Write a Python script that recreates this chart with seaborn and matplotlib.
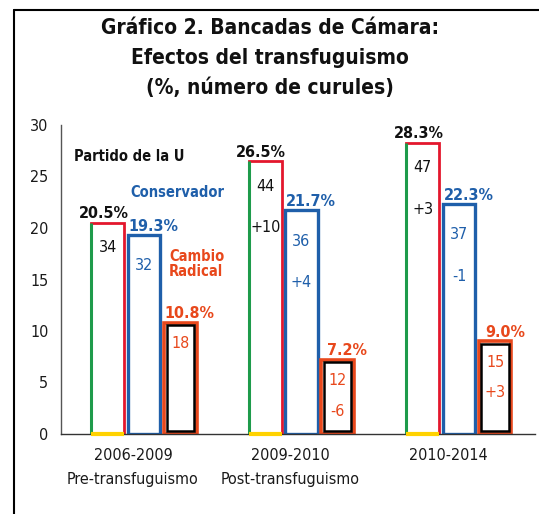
import numpy as np
import pandas as pd
import matplotlib
matplotlib.use('Agg')
import matplotlib.pyplot as plt
import matplotlib.transforms as mtransforms
from matplotlib.lines import Line2D
from matplotlib.patches import Rectangle
import seaborn as sns

# data
periods = ['2006-2009\nPre-transfuguismo', '2009-2010\nPost-transfuguismo', '2010-2014']
parties = ['Partido de la U', 'Conservador', 'Cambio Radical']
pct_u = [20.5, 26.5, 28.3]
pct_c = [19.3, 21.7, 22.3]
pct_cr = [10.8, 7.2, 9.0]
seats_u = [34, 44, 47]
seats_c = [32, 36, 37]
seats_cr = [18, 12, 15]
change_u = ['', '+10', '+3']
change_c = ['', '+4', '-1']
change_cr = ['', '-6', '+3']

GREEN = '#1E9B4B'
RED = '#E3172D'
YELLOW = '#FFD200'
BLUE = '#1F5FAA'
ORANGE = '#E8481C'

sns.set_style('white')
plt.rcParams['font.family'] = ['DejaVu Sans']
plt.rcParams['font.stretch'] = 'condensed'

df = pd.DataFrame({
    'periodo': periods * 3,
    'partido': [p for p in parties for _ in periods],
    'pct': pct_u + pct_c + pct_cr,
})

fig = plt.figure(figsize=(5.39, 5.14), dpi=100)
ax = fig.add_axes([61 / 539, 80 / 514, (535 - 61) / 539, (434 - 125) / 514])

sns.barplot(data=df, x='periodo', y='pct', hue='partido', hue_order=parties,
            order=periods, palette=['white'] * 3, width=0.69, gap=0.1,
            legend=False, ax=ax, err_kws={'linewidth': 0})

ax.set_xlim(-0.527, 2.483)
ax.set_ylim(0, 30)
ax.set_yticks(range(0, 31, 5))
ax.set_xlabel('')
ax.set_ylabel('')
ax.tick_params(axis='both', length=0, colors='#1a1a1a')
ax.tick_params(axis='y', pad=9, labelsize=11.5)
ax.tick_params(axis='x', pad=10, labelsize=11.5)
shift = mtransforms.ScaledTranslation(-11 / 100, 0, fig.dpi_scale_trans)
for lab in ax.get_xticklabels():
    lab.set_linespacing(1.75)
    lab.set_transform(lab.get_transform() + shift)
for s in ['top', 'right']:
    ax.spines[s].set_visible(False)
ax.spines['left'].set_color('#555555')
ax.spines['bottom'].set_color('#333333')
ax.spines['left'].set_linewidth(1)
ax.spines['bottom'].set_linewidth(1)

bars_u, bars_c, bars_cr = ax.containers[0], ax.containers[1], ax.containers[2]

fig.canvas.draw()
px_x = ax.transData.transform((1, 0))[0] - ax.transData.transform((0, 0))[0]
px_y = ax.transData.transform((0, 1))[1] - ax.transData.transform((0, 0))[1]

# Partido de la U: flag-coloured outline
for bar in bars_u:
    bar.set_edgecolor(RED)
    bar.set_linewidth(2)
    x, w, h = bar.get_x(), bar.get_width(), bar.get_height()
    ax.plot([x, x], [0, h], color=GREEN, lw=2.2, solid_capstyle='butt', zorder=3)
    ax.plot([x, x + w], [0, 0], color=YELLOW, lw=3, solid_capstyle='butt',
            zorder=4, clip_on=False)

for bar in bars_c:
    bar.set_edgecolor(BLUE)
    bar.set_linewidth(2.4)

# Cambio Radical: orange outline with a black inner outline
dx, dy = 2.6 / px_x, 2.6 / px_y
for bar in bars_cr:
    bar.set_edgecolor(ORANGE)
    bar.set_linewidth(2.6)
    x, w, h = bar.get_x(), bar.get_width(), bar.get_height()
    ax.add_patch(Rectangle((x + dx, dy), w - 2 * dx, h - 2 * dy, fill=False,
                           edgecolor='black', lw=1.8, zorder=3))

# labels on bars
specs = [
    (bars_u, pct_u, seats_u, change_u, '#111111', -3, -18, -48),
    (bars_c, pct_c, seats_c, change_c, BLUE, 7, -22, -52),
    (bars_cr, pct_cr, seats_cr, change_cr, ORANGE, 7, -15, -37),
]
for bars, pcts, seats, changes, col, pdx, sdy, cdy in specs:
    for bar, p, s, c in zip(bars, pcts, seats, changes):
        xc = bar.get_x() + bar.get_width() / 2
        h = bar.get_height()
        ax.annotate(f'{p:.1f}%', (xc, h), xytext=(pdx, 1), textcoords='offset points',
                    ha='center', va='bottom', fontsize=11.5, fontweight='bold', color=col)
        ax.annotate(str(s), (xc, h), xytext=(0, sdy), textcoords='offset points',
                    ha='center', va='center', fontsize=11.5, color=col)
        if c:
            ax.annotate(c, (xc, h), xytext=(0, cdy), textcoords='offset points',
                        ha='center', va='center', fontsize=11.5, color=col)

# party names
ax.text(-0.444, 26.9, 'Partido de la U', fontsize=10.5, fontweight='bold',
        color='#111111', ha='left', va='center')
ax.text(-0.089, 23.4, 'Conservador', fontsize=10.5, fontweight='bold',
        color=BLUE, ha='left', va='center')
ax.text(0.159, 16.5, 'Cambio\nRadical', fontsize=10.5, fontweight='bold',
        color=ORANGE, ha='left', va='center', linespacing=1.0)

# title
for i, line in enumerate(['Gráfico 2. Bancadas de Cámara:', 'Efectos del transfuguismo',
                          '(%, número de curules)']):
    fig.text(270 / 539, 1 - (28.5 + 29.5 * i) / 514, line, ha='center', va='center',
             fontsize=15, fontweight='bold', color='#111111')

# outer frame
fig.add_artist(Line2D([14 / 539, 14 / 539], [0, 1 - 10 / 514], transform=fig.transFigure,
                      color='black', lw=1.5))
fig.add_artist(Line2D([14 / 539, 1], [1 - 10 / 514, 1 - 10 / 514], transform=fig.transFigure,
                      color='black', lw=1.5))

fig.savefig('out.png', dpi=100)
